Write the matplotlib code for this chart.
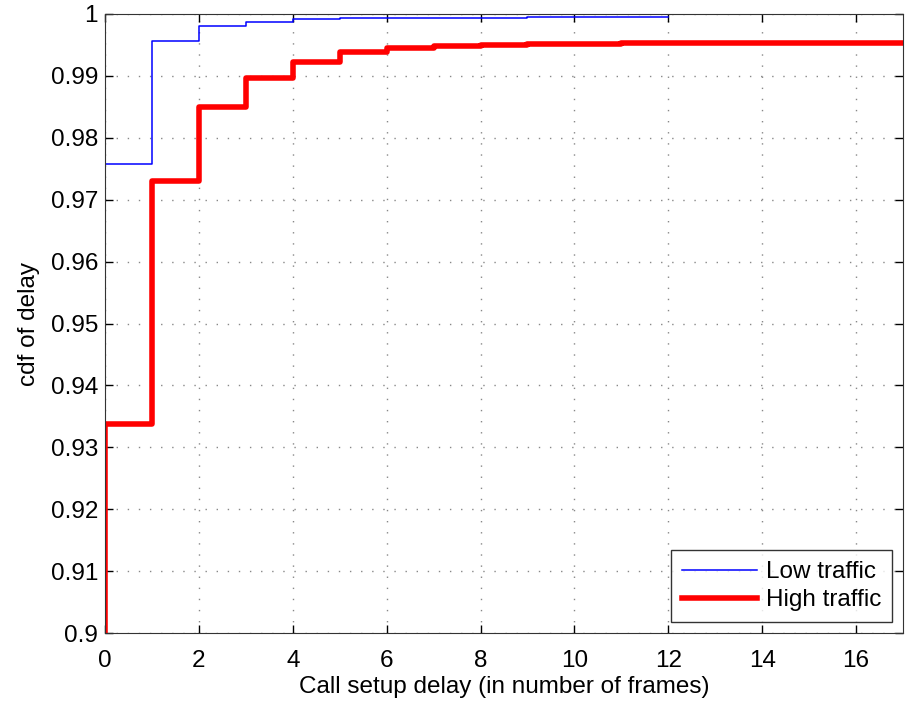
import numpy as np
import matplotlib.pyplot as plt

plt.rcParams['font.family'] = ['Liberation Sans', 'DejaVu Sans']

# step positions (frames) and cdf values
low_x = [0, 1, 2, 3, 4, 5, 6, 7, 8, 9, 10, 11, 12]
low_cdf = [0.9757, 0.9956, 0.9980, 0.9987, 0.9992, 0.9993, 0.9994, 0.9994, 0.9994, 0.9995, 0.9995, 0.9995, 0.9995]

high_x = [0, 1, 2, 3, 4, 5, 6, 7, 8, 9, 10, 11, 12, 13, 14, 15, 16, 17]
high_cdf = [0.9338, 0.9731, 0.9850, 0.9896, 0.9923, 0.9938, 0.9945, 0.9948, 0.9950, 0.9952, 0.9952, 0.9953,
            0.9953, 0.9953, 0.9953, 0.9953, 0.9953, 0.9953]

fig = plt.figure(figsize=(9.11, 7.01), dpi=100)
ax = fig.add_axes([105 / 911, (701 - 633) / 701, 798 / 911, 619 / 701])

# vertical rise at x=0 from the bottom of the axis
ax.step([0] + low_x, [0.9] + low_cdf, where='post', color='blue', lw=1.1, label='Low traffic')
ax.step([0] + high_x, [0.9] + high_cdf, where='post', color='red', lw=4, label='High traffic')

ax.set_xlim(0, 17)
ax.set_ylim(0.9, 1.0)
ax.set_xticks(np.arange(0, 17, 2))
ax.set_yticks(np.arange(0.9, 1.0001, 0.01))
ax.set_yticklabels(['0.9', '0.91', '0.92', '0.93', '0.94', '0.95', '0.96', '0.97', '0.98', '0.99', '1'])
ax.grid(True, linestyle=(0, (1, 7)), color='#888888', lw=1.0)
ax.tick_params(direction='in', top=True, right=True, labelsize=17.5, length=6, width=1)
ax.tick_params(axis='x', pad=12)
ax.tick_params(axis='y', pad=5)
for s in ax.spines.values():
    s.set_color('#333333')

ax.set_xlabel('Call setup delay (in number of frames)', fontsize=17.5, labelpad=3)
ax.set_ylabel('cdf of delay', fontsize=17.5, labelpad=8)

leg = ax.legend(loc='lower right', fontsize=17.5, fancybox=False, edgecolor='black',
                handlelength=3.1, borderaxespad=0.45, borderpad=0.45, labelspacing=0.25,
                handletextpad=0.35)
leg.get_frame().set_linewidth(1.0)

fig.savefig('out.png', dpi=100)
